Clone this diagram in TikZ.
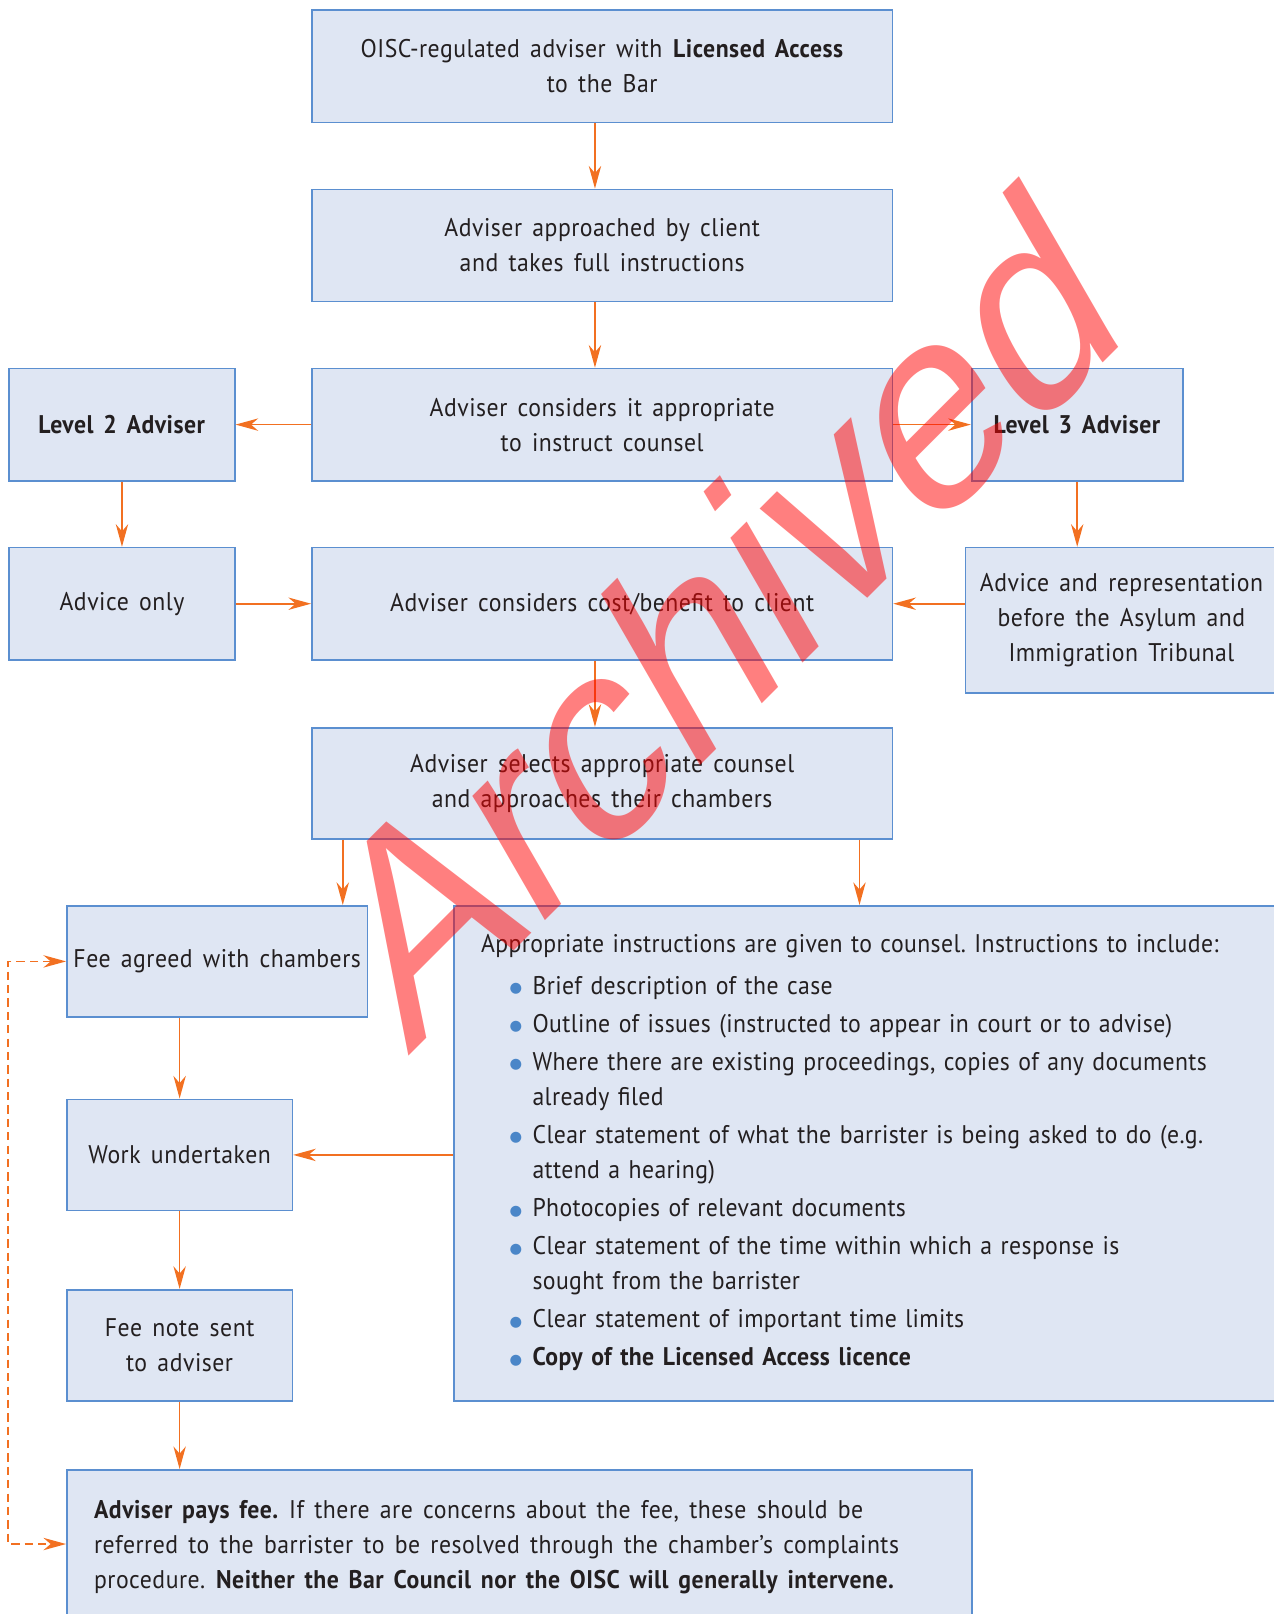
\documentclass[tikz,border=0pt]{standalone}
\usepackage{fontspec}
\setmainfont{PT Sans}[FakeStretch=0.93, WordSpace=1.5]
\newfontfamily\wmfont{Liberation Sans}
\newfontfamily\dejavu{DejaVu Sans}
\usetikzlibrary{arrows.meta,calc}
\definecolor{boxfill}{HTML}{DFE6F3}
\definecolor{boxline}{HTML}{5B8FD0}
\definecolor{arrorange}{HTML}{F27021}
\definecolor{txt}{HTML}{231F20}
\definecolor{bul}{HTML}{4A86C8}
\newcommand\mainsz{\fontsize{12.4pt}{17pt}\selectfont\addfontfeatures{LetterSpace=1.5}}
\newcommand\boxsz{\fontsize{12.4pt}{17pt}\selectfont\addfontfeatures{LetterSpace=2}}
\newcommand\bulletglyph{{\dejavu\fontsize{7pt}{7pt}\selectfont\raisebox{0.8pt}{●}}}
\newcommand\itm[1]{\par\vspace{1.5pt}{\leftskip=25pt\noindent\llap{\textcolor{bul}{\bulletglyph}\hspace{5pt}}#1\par}}
\frenchspacing
\begin{document}
\begin{tikzpicture}[x=0.5pt,y=-0.5pt,
  box/.style={draw=boxline, fill=boxfill, line width=0.8pt, inner sep=0pt, align=center, text=txt, font=\boxsz},
  tbody/.style={text=txt, inner sep=0pt, align=left, anchor=north west},
  arr/.style={draw=arrorange, line width=0.8pt, -{Stealth[length=11pt,width=6pt,inset=3.5pt]}},
  darr/.style={draw=arrorange, line width=0.8pt, dash pattern=on 4pt off 2.5pt, {Stealth[length=11pt,width=6pt,inset=3.5pt]}-{Stealth[length=11pt,width=6pt,inset=3.5pt]}}
]
\useasboundingbox (0,0) rectangle (1237,1568);
% boxes
\node[box, minimum width=282pt, minimum height=54.5pt] (b1) at (585,64.5) {OISC-regulated adviser with \textbf{Licensed Access}\\to the Bar};
\node[box, minimum width=282pt, minimum height=54.5pt] (b2) at (585,238.5) {Adviser approached by client\\and takes full instructions};
\node[box, minimum width=282pt, minimum height=54.5pt] (b3) at (585,412.5) {Adviser considers it appropriate\\to instruct counsel};
\node[box, minimum width=109.5pt, minimum height=54.5pt] (l2) at (118.5,412.5) {\textbf{Level 2 Adviser}};
\node[box, minimum width=102.5pt, minimum height=54.5pt] (l3) at (1046.5,412.5) {\textbf{Level 3 Adviser}};
\node[box, minimum width=109.5pt, minimum height=54.5pt] (ao) at (118.5,586.5) {Advice only};
\node[box, minimum width=282pt, minimum height=54.5pt] (cb) at (585,586.5) {Adviser considers cost/benefit to client};
\node[box, minimum width=151.5pt, minimum height=70.5pt] (ar) at (1089.5,602.5) {Advice and representation\\before the Asylum and\\Immigration Tribunal};
\node[box, minimum width=282pt, minimum height=54pt] (sel) at (585,761) {Adviser selects appropriate counsel\\and approaches their chambers};
\node[box, minimum width=146pt, minimum height=54pt] (fee) at (211,934) {Fee agreed with chambers};
\node[box, minimum width=109.5pt, minimum height=54pt] (work) at (174.5,1122) {Work undertaken};
\node[box, minimum width=109.5pt, minimum height=54pt] (note) at (174.5,1307) {Fee note sent\\to adviser};
\node[box, minimum width=400pt, minimum height=240.5pt] (instr) at (841,1120.5) {};
\node[box, minimum width=439.5pt, minimum height=72pt] (pay) at (504.5,1500) {};
% texts in wide boxes
\node[tbody, font=\mainsz, text width=420pt] (instrtext) at (467,907) {Appropriate instructions are given to counsel. Instructions to include:\par\vspace{2pt}
\itm{Brief description of the case}
\itm{Outline of issues (instructed to appear in court or to advise)}
\itm{Where there are existing proceedings, copies of any documents\\already filed}
\itm{Clear statement of what the barrister is being asked to do (e.g.\\attend a hearing)}
\itm{Photocopies of relevant documents}
\itm{Clear statement of the time within which a response is\\sought from the barrister}
\itm{Clear statement of important time limits}
\itm{\textbf{Copy of the Licensed Access licence}}};
\node[tbody, font=\boxsz] (paytext) at (91,1457) {\textbf{Adviser pays fee.} If there are concerns about the fee, these should be\\referred to the barrister to be resolved through the chamber’s complaints\\procedure. \textbf{Neither the Bar Council nor the OISC will generally intervene.}};
% helper coordinates
\coordinate (cx) at (578,0);
\coordinate (sx) at (333,0);
\coordinate (ix) at (835,0);
\coordinate (dl) at (8,0);
% connectors
\draw[arr] (b1.south -| cx) -- (b2.north -| cx);
\draw[arr] (b2.south -| cx) -- (b3.north -| cx);
\draw[arr] (b3.west) -- (l2.east);
\draw[arr] (b3.east) -- (l3.west);
\draw[arr] (l2.south) -- (ao.north);
\draw[arr] (l3.south) -- (ar.north -| l3.south);
\draw[arr] (ao.east) -- (cb.west);
\draw[arr] (ar.west |- cb.east) -- (cb.east);
\draw[arr] (cb.south -| cx) -- (sel.north -| cx);
\draw[arr] (sel.south -| sx) -- (fee.north -| sx);
\draw[arr] (sel.south -| ix) -- (instr.north -| ix);
\draw[arr] (instr.west |- work.east) -- (work.east);
\draw[arr] (fee.south -| work.north) -- (work.north);
\draw[arr] (work.south) -- (note.north);
\draw[arr] (note.south) -- (pay.north -| note.south);
\draw[darr] (fee.west) -- (fee.west -| dl) -- (pay.west -| dl) -- (pay.west);
% watermark
\begin{scope}[shift={(397,1027)}, cm={0.68,0.68,-0.5,0.866,(0,0)}]
\node[transform shape, anchor=base west, inner sep=0pt, text=red, text opacity=0.5, font=\wmfont\fontsize{132.5pt}{132.5pt}\selectfont] (wm) at (0,0) {Archived};
\end{scope}
\end{tikzpicture}
\end{document}
